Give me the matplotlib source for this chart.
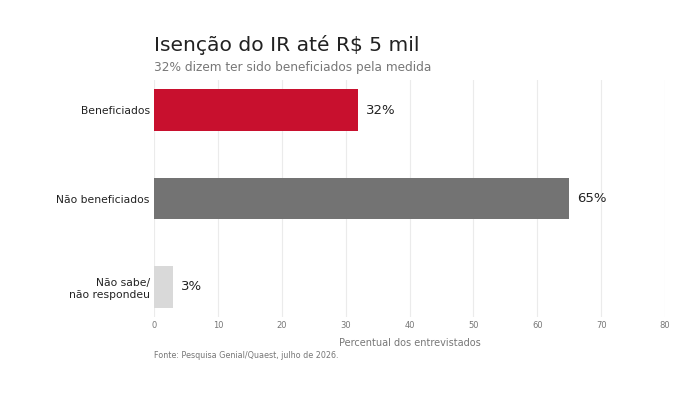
import matplotlib
matplotlib.use("Agg")
import matplotlib.pyplot as plt

categorias = ["Beneficiados", "Não beneficiados", "Não sabe/\nnão respondeu"]
valores = [32, 65, 3]
cores = ["#C8102E", "#737373", "#D9D9D9"]
xticks = [0, 10, 20, 30, 40, 50, 60, 70, 80]

fig = plt.figure(figsize=(7, 3.94), dpi=100)
ax = fig.add_axes([0.22, 1 - 317 / 394, 0.73, (317 - 80) / 394])

pos = list(range(len(categorias)))
ax.barh(pos, valores, height=0.47, color=cores, zorder=2)
for p, v in zip(pos, valores):
    ax.text(v + 1.2, p, f"{v}%", va="center", ha="left", fontsize=9.5, color="#222222")

ax.set_xlim(0, 80)
ax.set_ylim(2.34, -0.34)
ax.set_xticks(xticks)
ax.set_yticks(pos)
ax.set_yticklabels(categorias, fontsize=7.75, color="#222222")
ax.tick_params(axis="x", labelsize=6, labelcolor="#777777", length=0, pad=3)
ax.tick_params(axis="y", length=0, pad=3)
ax.grid(axis="x", color="#EBEBEB", linewidth=0.8, zorder=0)
for s in ax.spines.values():
    s.set_visible(False)
ax.set_xlabel("Percentual dos entrevistados", fontsize=7, color="#777777", labelpad=6)

fig.text(154 / 700, 1 - 45 / 394, "Isenção do IR até R$ 5 mil", fontsize=14.6, color="#222222", va="center")
fig.text(154 / 700, 1 - 68 / 394, "32% dizem ter sido beneficiados pela medida", fontsize=8.75, color="#777777", va="center")
fig.text(154 / 700, 1 - 355 / 394, "Fonte: Pesquisa Genial/Quaest, julho de 2026.", fontsize=5.8, color="#777777", va="center")

fig.savefig("out.png", dpi=100)
